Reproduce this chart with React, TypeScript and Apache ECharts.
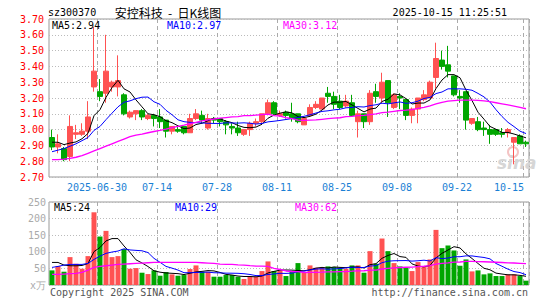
import React, { useEffect, useRef } from 'react';
import * as echarts from 'echarts';

const dates = [
  '2025-06-18', '2025-06-19', '2025-06-20', '2025-06-23', '2025-06-24', '2025-06-25', '2025-06-26', '2025-06-27',
  '2025-06-30', '2025-07-01', '2025-07-02', '2025-07-03', '2025-07-04', '2025-07-07', '2025-07-08', '2025-07-09',
  '2025-07-10', '2025-07-11', '2025-07-14', '2025-07-15', '2025-07-16', '2025-07-17', '2025-07-18', '2025-07-21',
  '2025-07-22', '2025-07-23', '2025-07-24', '2025-07-25', '2025-07-28', '2025-07-29', '2025-07-30', '2025-07-31',
  '2025-08-01', '2025-08-04', '2025-08-05', '2025-08-06', '2025-08-07', '2025-08-08', '2025-08-11', '2025-08-12',
  '2025-08-13', '2025-08-14', '2025-08-15', '2025-08-18', '2025-08-19', '2025-08-20', '2025-08-21', '2025-08-22',
  '2025-08-25', '2025-08-26', '2025-08-27', '2025-08-28', '2025-08-29', '2025-09-01', '2025-09-02', '2025-09-03',
  '2025-09-04', '2025-09-05', '2025-09-08', '2025-09-09', '2025-09-10', '2025-09-11', '2025-09-12', '2025-09-15',
  '2025-09-16', '2025-09-17', '2025-09-18', '2025-09-19', '2025-09-22', '2025-09-23', '2025-09-24', '2025-09-25',
  '2025-09-26', '2025-09-29', '2025-09-30', '2025-10-09', '2025-10-10', '2025-10-13', '2025-10-14', '2025-10-15',
];

const opens = [
  2.95, 2.89, 2.88, 2.83, 2.97, 2.97, 2.99, 3.27, 3.24, 3.23,
  3.27, 3.27, 3.22, 3.08, 3.10, 3.12, 3.07, 3.09, 3.08, 3.06,
  2.99, 3.00, 3.02, 2.98, 3.07, 3.09, 3.01, 3.07, 3.07, 3.05,
  3.02, 3.01, 2.97, 3.00, 3.04, 3.05, 3.10, 3.17, 3.09, 3.11,
  3.10, 3.10, 3.03, 3.09, 3.14, 3.13, 3.23, 3.21, 3.18, 3.15,
  3.17, 3.05, 3.10, 3.05, 3.24, 3.20, 3.31, 3.14, 3.21, 3.19,
  3.09, 3.13, 3.19, 3.20, 3.33, 3.44, 3.41, 3.34, 3.21, 3.24,
  3.04, 3.05, 3.01, 3.00, 3.00, 2.98, 2.98, 2.92, 2.96, 2.92,
];
const closes = [
  2.89, 2.91, 2.81, 3.02, 2.98, 2.99, 3.08, 3.37, 3.21, 3.37,
  3.30, 3.31, 3.10, 3.11, 3.12, 3.08, 3.09, 3.07, 3.05, 2.99,
  3.02, 2.99, 2.98, 3.07, 3.10, 3.06, 3.07, 3.06, 3.05, 3.03,
  3.01, 2.98, 3.00, 3.04, 3.05, 3.10, 3.17, 3.10, 3.10, 3.09,
  3.07, 3.05, 3.07, 3.14, 3.16, 3.20, 3.21, 3.16, 3.14, 3.18,
  3.09, 3.10, 3.05, 3.23, 3.21, 3.30, 3.17, 3.22, 3.20, 3.09,
  3.13, 3.20, 3.22, 3.30, 3.45, 3.40, 3.37, 3.22, 3.20, 3.06,
  3.07, 3.00, 3.00, 2.97, 2.97, 2.97, 3.00, 2.95, 2.91, 2.91,
];
const lows = [
  2.87, 2.85, 2.80, 2.80, 2.94, 2.96, 2.94, 3.24, 3.18, 3.17,
  3.24, 3.21, 3.09, 3.07, 3.06, 3.06, 3.06, 3.02, 3.01, 2.95,
  2.97, 2.98, 2.97, 2.98, 3.06, 3.04, 3.00, 3.04, 3.02, 2.97,
  2.97, 2.96, 2.96, 2.96, 3.02, 3.04, 3.09, 3.09, 3.08, 3.07,
  3.05, 3.04, 3.03, 3.08, 3.13, 3.13, 3.17, 3.13, 3.13, 3.14,
  3.08, 2.95, 3.01, 3.03, 3.17, 3.17, 3.08, 3.13, 3.13, 3.06,
  3.04, 3.04, 3.18, 3.20, 3.26, 3.38, 3.33, 3.21, 3.17, 3.00,
  3.03, 2.99, 2.96, 2.91, 2.96, 2.95, 2.95, 2.78, 2.91, 2.89,
];
const highs = [
  3.00, 2.97, 2.89, 3.09, 3.03, 3.04, 3.18, 3.65, 3.32, 3.60,
  3.31, 3.47, 3.23, 3.12, 3.12, 3.13, 3.10, 3.10, 3.13, 3.06,
  3.02, 3.02, 3.02, 3.10, 3.13, 3.12, 3.10, 3.08, 3.07, 3.06,
  3.04, 3.05, 3.00, 3.05, 3.07, 3.10, 3.19, 3.18, 3.12, 3.12,
  3.17, 3.10, 3.07, 3.16, 3.18, 3.20, 3.27, 3.24, 3.22, 3.22,
  3.22, 3.12, 3.10, 3.25, 3.29, 3.36, 3.31, 3.23, 3.23, 3.19,
  3.14, 3.20, 3.25, 3.31, 3.55, 3.50, 3.53, 3.34, 3.25, 3.24,
  3.07, 3.08, 3.05, 3.03, 3.00, 3.01, 3.01, 2.95, 2.97, 2.93,
];
// volume in 万
const volumes = [
  44, 57, 40, 84, 64, 49, 87, 219, 146, 163,
  84, 87, 108, 49, 51, 37, 33, 44, 28, 39,
  32, 28, 30, 48, 59, 40, 40, 25, 25, 30,
  30, 25, 18, 25, 25, 42, 71, 42, 44, 27,
  40, 66, 37, 59, 52, 51, 56, 54, 52, 49,
  59, 59, 37, 102, 64, 140, 102, 66, 56, 52,
  42, 69, 54, 77, 166, 111, 119, 104, 58, 77,
  41, 44, 32, 35, 27, 27, 32, 32, 27, 13,
];

// moving-average values before enough in-window data exists
const ma5Head = [2.92, 2.92, 2.905, 2.915];
const ma10Head = [2.86, 2.87, 2.88, 2.895, 2.91, 2.93, 2.95, 2.995, 3.02];
const ma30Head = [
  2.81, 2.81, 2.813, 2.818, 2.825, 2.835, 2.85, 2.865, 2.88, 2.895,
  2.91, 2.925, 2.94, 2.955, 2.965, 2.972, 2.98, 2.988, 2.995, 3.003,
  3.012, 3.02, 3.028, 3.037, 3.046, 3.055, 3.062, 3.067, 3.072,
];
const volMa5Head = [68, 68, 60, 58];
const volMa10Head = [53, 56, 60, 62, 62, 62, 65, 77, 87];
const volMa30Head = [
  32, 32, 33, 34, 35, 38, 45, 53, 56, 58,
  60, 62, 63, 64, 65, 66, 67, 68, 68, 68,
  68, 68, 68, 68, 68, 67, 66, 65, 63,
];

const priceMaLast = ['2.94', '2.97', '3.12'];
const volMaLast = ['24', '29', '62'];
const labelIdx = [8, 18, 28, 38, 48, 58, 68, 79];

const UP = '#ff5252';
const DOWN = '#00a600';
const MONO = '"DejaVu Sans Mono", "Liberation Mono", monospace';

function movingAvg(vals: number[], n: number, head: number[], digits: number) {
  return vals.map((_, i) => {
    if (i < head.length) return head[i];
    let s = 0;
    for (let k = i - n + 1; k <= i; k++) s += vals[k];
    return +(s / n).toFixed(digits);
  });
}

export default function App() {
  const ref = useRef<HTMLDivElement>(null);
  useEffect(() => {
    if (!ref.current) return;
    const chart = echarts.init(ref.current, undefined, { renderer: 'svg' });
    const ma5 = movingAvg(closes, 5, ma5Head, 3);
    const ma10 = movingAvg(closes, 10, ma10Head, 3);
    const ma30 = movingAvg(closes, 30, ma30Head, 3);
    const vma5 = movingAvg(volumes, 5, volMa5Head, 1);
    const vma10 = movingAvg(volumes, 10, volMa10Head, 1);
    const vma30 = movingAvg(volumes, 30, volMa30Head, 1);
    const kData = opens.map((o, i) => [o, closes[i], lows[i], highs[i]]);
    const volData = volumes.map((v, i) => ({
      value: v,
      itemStyle: { color: closes[i] > opens[i] ? UP : DOWN },
    }));
    const splitInterval = (i: number) => labelIdx.includes(i);
    const xSplit = { show: true, interval: splitInterval, lineStyle: { color: '#aaa', type: [4, 3], width: 1 } };
    const ySplit = { show: true, lineStyle: { color: '#bbb', type: [1, 2], width: 1 } };
    const line = (data: number[], color: string, x: number, width = 1) => ({
      type: 'line', data, xAxisIndex: x, yAxisIndex: x, symbol: 'none', silent: true,
      lineStyle: { color, width }, z: 3,
    });
    const txt = (text: string, x: number, y: number, fill: string, extra: any = {}) => ({
      type: 'text', x, y, silent: true, z: 10,
      style: { text, fill, fontSize: 10, fontFamily: MONO, verticalAlign: 'middle', align: 'left', ...extra },
    });
    const option: any = {
      animation: false,
      backgroundColor: '#fff',
      textStyle: { fontFamily: MONO },
      grid: [
        { left: 49, width: 480, top: 19, height: 158, show: true, borderColor: '#999', borderWidth: 1 },
        { left: 49, width: 480, top: 202, height: 83, show: true, borderColor: '#999', borderWidth: 1 },
      ],
      xAxis: [
        {
          type: 'category', gridIndex: 0, data: dates, boundaryGap: true,
          axisLine: { show: false }, axisTick: { show: false },
          axisLabel: {
            interval: (i: number) => labelIdx.includes(i),
            margin: 5,
            formatter: (v: string, i: number) => {
              if (i === labelIdx[0]) return '{n|' + v + '}';
              if (i === labelIdx[labelIdx.length - 1]) return '{e|' + v.slice(5) + '}';
              return '{n|' + v.slice(5) + '}';
            },
            rich: {
              n: { color: '#1a7fd4', fontSize: 10, fontFamily: MONO, padding: [0, 6, 0, 0] },
              e: { color: '#1a7fd4', fontSize: 10, fontFamily: MONO, padding: [0, 34, 0, 0] },
            },
          },
          splitLine: xSplit,
        },
        {
          type: 'category', gridIndex: 1, data: dates, boundaryGap: true,
          axisLine: { show: false }, axisTick: { show: false }, axisLabel: { show: false },
          splitLine: xSplit,
        },
      ],
      yAxis: [
        {
          type: 'value', gridIndex: 0, min: 2.7, max: 3.7, interval: 0.1,
          axisLine: { show: false }, axisTick: { show: false },
          axisLabel: { color: '#ff0000', fontSize: 10, fontFamily: MONO, margin: 5, formatter: (v: number) => v.toFixed(2) },
          splitLine: ySplit,
        },
        {
          type: 'value', gridIndex: 1, min: 0, max: 250, interval: 50,
          axisLine: { show: false }, axisTick: { show: false },
          axisLabel: { color: '#aaa', fontSize: 10, fontFamily: MONO, margin: 3, formatter: (v: number) => (v === 0 ? 'x万' : String(v)) },
          splitLine: ySplit,
        },
      ],
      series: [
        {
          type: 'candlestick', xAxisIndex: 0, yAxisIndex: 0, data: kData, barWidth: 5,
          itemStyle: { color: UP, color0: DOWN, borderColor: UP, borderColor0: DOWN, borderWidth: 1 },
          z: 2,
        },
        line(ma5, '#000000', 0),
        line(ma10, '#0000ff', 0),
        line(ma30, '#ff00ff', 0, 1.3),
        { type: 'bar', xAxisIndex: 1, yAxisIndex: 1, data: volData, barWidth: 5, z: 2 },
        line(vma5, '#000000', 1),
        line(vma10, '#0000ff', 1),
        line(vma30, '#ff00ff', 1, 1.3),
      ],
      graphic: [
        txt('sz300370', 48, 12, '#000'),
        txt('安控科技  -  日K线图', 168, 12, '#000', { align: 'center', fontSize: 12, fontFamily: '"Noto Sans CJK SC", sans-serif' }),
        txt('2025-10-15 11:25:51', 507, 12, '#000', { align: 'right' }),
        txt('MA5:' + priceMaLast[0], 52, 25, '#000'),
        txt('MA10:' + priceMaLast[1], 167, 25, '#0000ff'),
        txt('MA30:' + priceMaLast[2], 283, 25, '#ff00ff'),
        txt('MA5:' + volMaLast[0], 54, 207, '#000'),
        txt('MA10:' + volMaLast[1], 175, 207, '#0000ff'),
        txt('MA30:' + volMaLast[2], 295, 207, '#ff00ff'),
        txt('Copyright 2025 SINA.COM', 50, 292, '#555'),
        txt('http://finance.sina.com.cn', 528, 292, '#555', { align: 'right' }),
        { type: 'circle', shape: { cx: 513, cy: 152, r: 5 }, silent: true, z: 1, style: { fill: 'none', stroke: '#f4c4c4', lineWidth: 2 } },
        txt('sina', 497, 163, '#d6d6d6', { fontSize: 17, fontWeight: 'bold', fontStyle: 'italic', fontFamily: '"DejaVu Sans", sans-serif' }),
      ],
    };
    chart.setOption(option);
    return () => chart.dispose();
  }, []);
  return <div ref={ref} style={{ position: 'fixed', left: 0, top: 0, width: 545, height: 300 }} />;
}
